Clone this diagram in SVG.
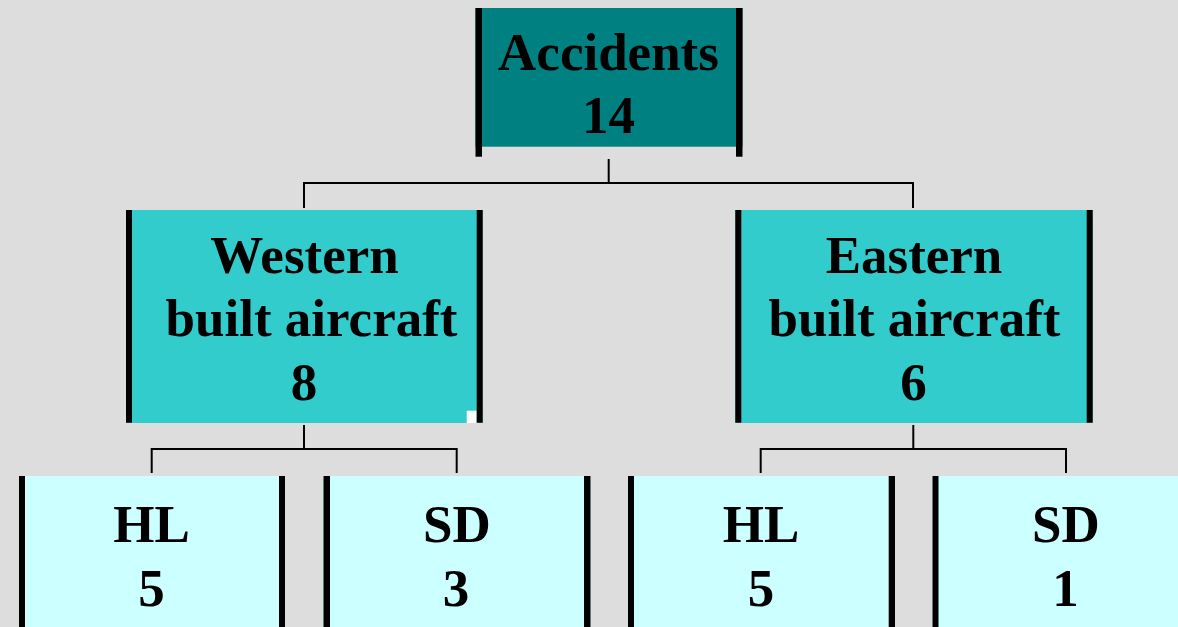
<svg xmlns="http://www.w3.org/2000/svg" width="1178" height="627" viewBox="0 0 1178 627">
<style>
.t{font-family:"Liberation Serif","Times New Roman",serif;font-weight:bold;font-size:53px;fill:#000;text-anchor:middle}
.bar{fill:#000}
.c{fill:none;stroke:#000;stroke-width:2}
</style>
<rect x="0" y="0" width="1178" height="627" fill="#DDDDDD"/>
<g id="connectors">
<path class="c" d="M608.7,159 V183 M304,208 V183 H913 V208"/>
<path class="c" d="M304,425 V449 M151.7,473 V449 H456.7 V473"/>
<path class="c" d="M913.3,425 V449 M760.7,473 V449 H1066 V473"/>
</g>
<g id="accidents">
<rect x="475.5" y="8" width="267" height="138.7" fill="#008080"/>
<rect class="bar" x="475.5" y="8" width="6.5" height="148.7"/>
<rect class="bar" x="736" y="8" width="6.5" height="148.7"/>
<text class="t" x="608.5" y="70">Accidents</text>
<text class="t" x="608.5" y="133.3">14</text>
</g>
<g id="western">
<rect x="126" y="210" width="356.7" height="213" fill="#33CCCC"/>
<rect x="466.7" y="410.7" width="10" height="12.3" fill="#FFFFFF"/>
<rect class="bar" x="126" y="210" width="6" height="212.7"/>
<rect class="bar" x="476.7" y="210" width="6" height="212.7"/>
<text class="t" x="304.5" y="272.7">Western</text>
<text class="t" x="311.5" y="336">built aircraft</text>
<text class="t" x="304" y="400">8</text>
</g>
<g id="eastern">
<rect x="735.3" y="210" width="357.4" height="213" fill="#33CCCC"/>
<rect class="bar" x="735.3" y="210" width="6" height="212.7"/>
<rect class="bar" x="1086.7" y="210" width="6" height="212.7"/>
<text class="t" x="914" y="272.7">Eastern</text>
<text class="t" x="914.5" y="336">built aircraft</text>
<text class="t" x="913.5" y="400">6</text>
</g>
<g id="w-hl">
<rect x="19" y="476" width="266" height="151" fill="#CCFFFF"/>
<rect class="bar" x="19" y="476" width="6" height="151"/>
<rect class="bar" x="279" y="476" width="6" height="151"/>
<text class="t" x="151.5" y="541.7">HL</text>
<text class="t" x="151.5" y="605.7">5</text>
</g>
<g id="w-sd">
<rect x="323.5" y="476" width="267" height="151" fill="#CCFFFF"/>
<rect class="bar" x="323.5" y="476" width="6.5" height="151"/>
<rect class="bar" x="584" y="476" width="6.5" height="151"/>
<text class="t" x="457" y="541.7">SD</text>
<text class="t" x="456" y="605.7">3</text>
</g>
<g id="e-hl">
<rect x="628" y="476" width="267" height="151" fill="#CCFFFF"/>
<rect class="bar" x="628" y="476" width="6" height="151"/>
<rect class="bar" x="888.7" y="476" width="6.3" height="151"/>
<text class="t" x="761" y="541.7">HL</text>
<text class="t" x="761" y="605.7">5</text>
</g>
<g id="e-sd">
<rect x="932.5" y="476" width="267" height="151" fill="#CCFFFF"/>
<rect class="bar" x="932.5" y="476" width="6" height="151"/>
<rect class="bar" x="1193" y="476" width="6.5" height="151"/>
<text class="t" x="1066" y="541.7">SD</text>
<text class="t" x="1065.5" y="605.7">1</text>
</g>
</svg>
